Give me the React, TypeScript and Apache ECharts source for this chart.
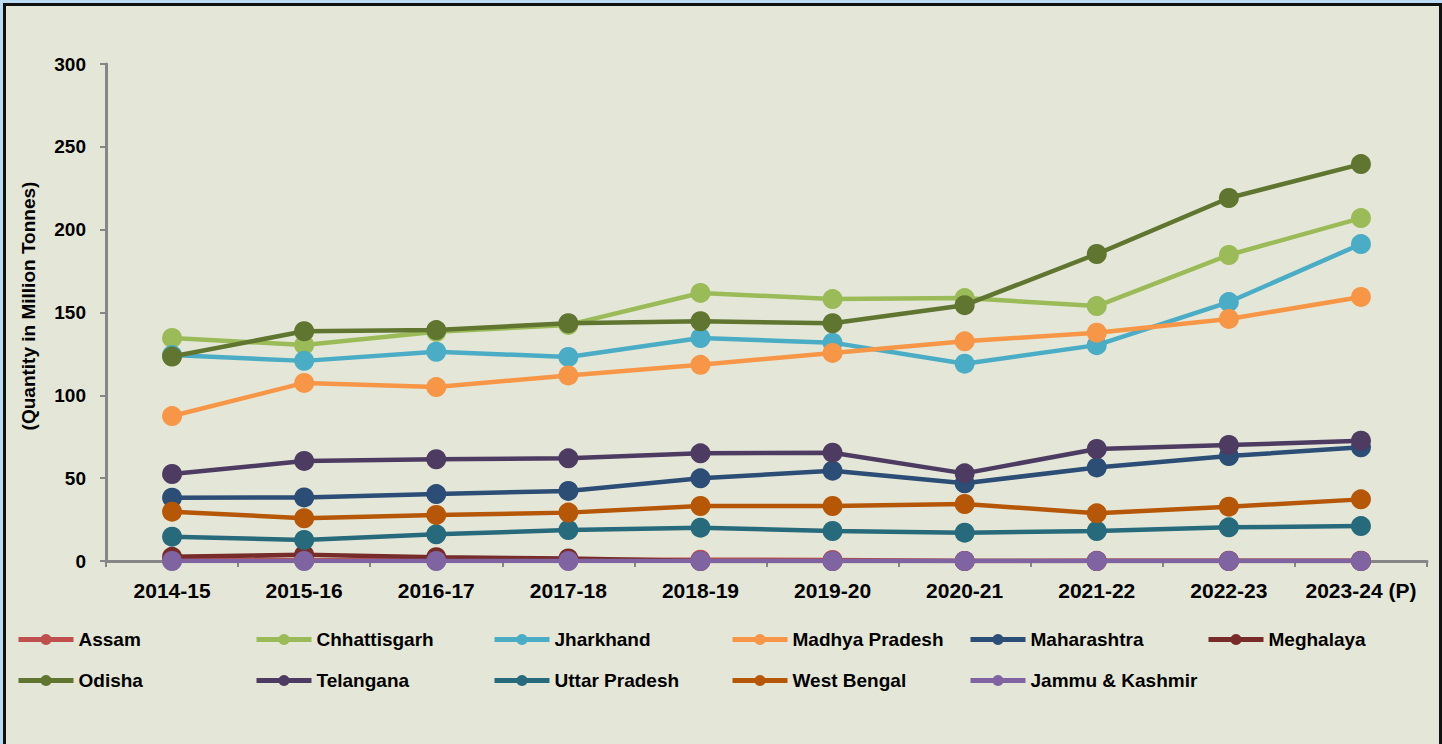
import React, { useEffect, useRef } from "react";
import * as echarts from "echarts";

const categories = ["2014-15", "2015-16", "2016-17", "2017-18", "2018-19", "2019-20", "2020-21", "2021-22", "2022-23", "2023-24 (P)"];
const yTicks = [0, 50, 100, 150, 200, 250, 300];

const assam = [0.7, 0.5, 0.6, 0.8, 0.8, 0.6, 0.03, 0.1, 0.2, 0.2];
const chhattisgarh = [134.6, 130.4, 138.4, 142.5, 161.8, 158.1, 158.7, 153.9, 184.7, 207.0];
const jharkhand = [124.3, 120.8, 126.3, 123.2, 134.6, 131.8, 119.1, 130.3, 156.3, 191.3];
const madhyaPradesh = [87.5, 107.5, 105.0, 112.0, 118.4, 125.6, 132.6, 137.8, 146.1, 159.4];
const maharashtra = [38.2, 38.4, 40.4, 42.3, 49.9, 54.5, 46.9, 56.5, 63.4, 68.6];
const meghalaya = [2.5, 3.7, 2.3, 1.5, 0, 0, 0, 0, 0, 0];
const odisha = [123.4, 138.7, 139.4, 143.5, 144.7, 143.5, 154.4, 185.3, 219.1, 239.6];
const telangana = [52.5, 60.4, 61.4, 62.0, 65.0, 65.4, 52.9, 67.6, 70.0, 72.6];
const uttarPradesh = [14.7, 12.7, 16.1, 18.7, 20.1, 18.1, 17.1, 18.1, 20.3, 21.1];
const westBengal = [29.8, 25.8, 27.8, 29.2, 33.2, 33.2, 34.4, 28.8, 32.8, 37.2];
const jammuKashmir = [0.01, 0.01, 0.01, 0.01, 0.01, 0.02, 0.01, 0.01, 0.01, 0.01];

const seriesNames = ["Assam", "Chhattisgarh", "Jharkhand", "Madhya Pradesh", "Maharashtra", "Meghalaya", "Odisha", "Telangana", "Uttar Pradesh", "West Bengal", "Jammu & Kashmir"];
const seriesData = [assam, chhattisgarh, jharkhand, madhyaPradesh, maharashtra, meghalaya, odisha, telangana, uttarPradesh, westBengal, jammuKashmir];
const seriesColors = ["#C0504D", "#9BBB59", "#4BACC6", "#F79646", "#2C4D75", "#772C2A", "#5F7530", "#4D3B62", "#276A7C", "#B65708", "#8064A2"];

const FONT = "'Liberation Sans', Arial, sans-serif";
const LEGEND_COLS = 6;

export default function App() {
  const ref = useRef<HTMLDivElement>(null);
  useEffect(() => {
    document.body.style.margin = "0";
    if (!ref.current) return;
    const chart = echarts.init(ref.current, null, { renderer: "svg" });
    const legends = seriesNames.map((name, i) => ({
      data: [name],
      left: 16 + 238 * (i % LEGEND_COLS),
      top: 630 + 41 * Math.floor(i / LEGEND_COLS),
      padding: 0,
      itemWidth: 55,
      itemHeight: 14,
      itemGap: 0,
      lineStyle: { width: 5 },
      textStyle: { color: "#000", fontFamily: FONT, fontWeight: "bold", fontSize: 19 },
    }));
    chart.setOption({
      animation: false,
      backgroundColor: "transparent",
      grid: { left: 106, right: 15, top: 64, bottom: 183, containLabel: false },
      legend: legends,
      xAxis: {
        type: "category",
        data: categories,
        boundaryGap: true,
        axisLine: { show: true, lineStyle: { color: "#868686", width: 3 } },
        axisTick: { show: true, length: 6, inside: false, lineStyle: { color: "#868686", width: 2 } },
        axisLabel: { color: "#000", fontFamily: FONT, fontWeight: "bold", fontSize: 21, margin: 19, interval: 0 },
        splitLine: { show: false },
      },
      yAxis: {
        type: "value",
        min: 0,
        max: yTicks[yTicks.length - 1],
        interval: 50,
        axisLine: { show: true, lineStyle: { color: "#868686", width: 3 } },
        axisTick: { show: true, length: 6, inside: false, lineStyle: { color: "#868686", width: 2 } },
        axisLabel: { color: "#000", fontFamily: FONT, fontWeight: "bold", fontSize: 19, margin: 20 },
        splitLine: { show: false },
      },
      graphic: [
        {
          type: "text",
          x: 28,
          y: 306,
          rotation: Math.PI / 2,
          style: {
            text: "(Quantity in Million Tonnes)",
            fill: "#000",
            font: `bold 19px ${FONT}`,
            align: "center",
            verticalAlign: "middle",
          },
        },
      ],
      series: seriesNames.map((name, i) => ({
        name,
        type: "line",
        data: seriesData[i],
        symbol: "circle",
        symbolSize: 20,
        showSymbol: true,
        color: seriesColors[i],
        lineStyle: { width: 4.5, color: seriesColors[i] },
        itemStyle: { color: seriesColors[i] },
        z: 2 + i,
      })),
    });
    return () => chart.dispose();
  }, []);

  return (
    <div style={{ position: "relative", width: 1442, height: 744, background: "#BCDCF5", overflow: "hidden" }}>
      <div
        style={{
          position: "absolute",
          left: 3,
          top: 3,
          width: 1433,
          height: 760,
          border: "3px solid #111",
          background: "#E4E7D7",
        }}
      />
      <div ref={ref} style={{ position: "absolute", left: 0, top: 0, width: 1442, height: 744 }} />
    </div>
  );
}
